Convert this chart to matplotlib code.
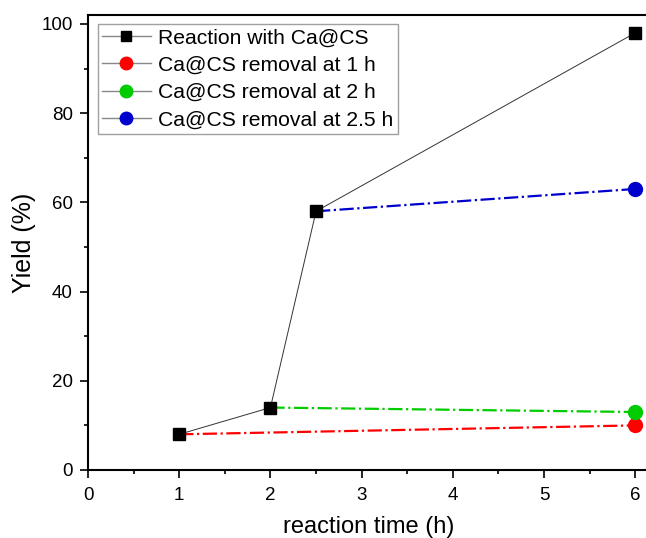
import matplotlib.pyplot as plt
from matplotlib.lines import Line2D
from matplotlib.ticker import MultipleLocator

plt.rcParams['font.family'] = ['Liberation Sans', 'DejaVu Sans']

# data
t_main = [1, 2, 2.5, 6]
y_main = [8, 14, 58, 98]

t_1h = [1, 6]
y_1h = [8, 10]
t_2h = [2, 6]
y_2h = [14, 13]
t_25h = [2.5, 6]
y_25h = [58, 63]

labels = ['Reaction with Ca@CS', 'Ca@CS removal at 1 h',
          'Ca@CS removal at 2 h', 'Ca@CS removal at 2.5 h']
colors = ['black', '#ff0000', '#00cc00', '#0000cc']

fig = plt.figure(figsize=(6.46, 5.38), dpi=100)
ax = fig.add_axes([88 / 646, 68 / 538, 561 / 646, 455 / 538])

for t, y, c in [(t_1h, y_1h, colors[1]), (t_2h, y_2h, colors[2]), (t_25h, y_25h, colors[3])]:
    ax.plot(t, y, color=c, linestyle='-.', linewidth=1.6, zorder=2)
    ax.plot(t[-1:], y[-1:], 'o', color=c, markersize=10, zorder=3)

ax.plot(t_main, y_main, color='#333333', linewidth=0.7, marker='s',
        markersize=8.5, markerfacecolor='black', markeredgecolor='black', zorder=4)

ax.set_xlim(0, 6.15)
ax.set_ylim(0, 102)
ax.xaxis.set_major_locator(MultipleLocator(1))
ax.xaxis.set_minor_locator(MultipleLocator(0.5))
ax.yaxis.set_major_locator(MultipleLocator(20))
ax.yaxis.set_minor_locator(MultipleLocator(10))
ax.tick_params(which='major', direction='out', length=6, width=1.2, labelsize=13.5)
ax.tick_params(axis='x', which='major', pad=6)
ax.tick_params(axis='y', which='major', pad=5)
ax.tick_params(which='minor', direction='out', length=3, width=1.2)
for s in ax.spines.values():
    s.set_linewidth(1.5)

ax.set_xlabel('reaction time (h)', fontsize=17, labelpad=9)
ax.set_ylabel('Yield (%)', fontsize=18, labelpad=4)

handles = []
for lab, c in zip(labels, colors):
    m = 's' if c == 'black' else 'o'
    ms = 7.5 if m == 's' else 9
    handles.append(Line2D([0], [0], color='#888888', linewidth=1, marker=m, markersize=ms,
                          markerfacecolor=c, markeredgecolor=c))
leg = ax.legend(handles, labels, loc='upper left', bbox_to_anchor=(0.0178, 0.980),
                fontsize=15.2, frameon=True, fancybox=False, edgecolor='#888888',
                handlelength=2.3, handletextpad=0.35, labelspacing=0.4,
                borderpad=0.2, borderaxespad=0)
leg.get_frame().set_linewidth(1)

fig.savefig('out.png', dpi=100)
